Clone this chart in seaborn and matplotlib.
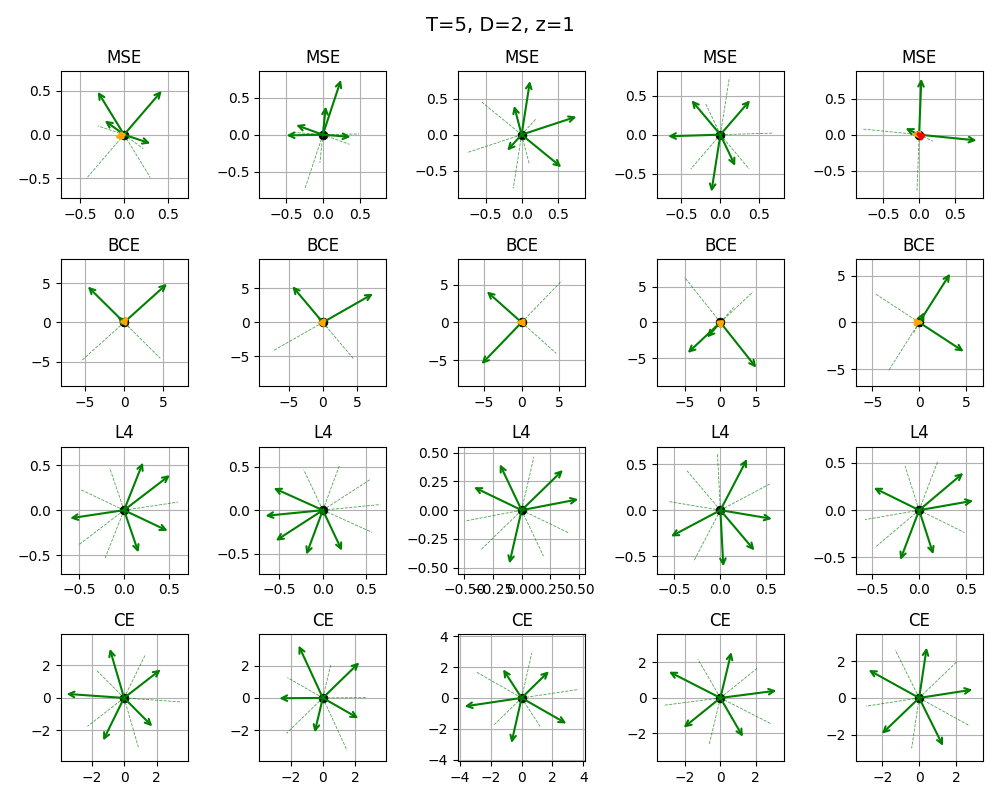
import numpy as np
import matplotlib
matplotlib.use('Agg')
import matplotlib.pyplot as plt
from matplotlib.ticker import MaxNLocator
import seaborn as sns

# loss rows of the grid
loss_names = ['MSE', 'BCE', 'L4', 'CE']

# green vectors (tips, from origin), one list per panel
mse_vectors = [
    [(0.43, 0.50), (-0.30, 0.49), (-0.22, 0.16), (0.30, -0.10)],
    [(0.245, 0.74), (0.04, 0.38), (-0.49, -0.01), (-0.36, 0.13), (0.375, -0.03)],
    [(0.116, 0.744), (-0.105, 0.40), (0.76, 0.25), (0.55, -0.45), (-0.20, -0.22)],
    [(0.38, 0.44), (-0.37, 0.44), (-0.67, -0.02), (-0.115, -0.73), (0.19, -0.40)],
    [(0.03, 0.78), (0.80, -0.08), (-0.19, 0.09)],
]
bce_vectors = [
    [(5.45, 4.9), (-4.6, 4.55), (-0.8, 0.75)],
    [(7.36, 4.2), (-4.47, 5.3), (-0.7, 0.8)],
    [(-4.6, 4.1), (-5.3, -5.5)],
    [(5.0, -6.3), (-4.55, -4.25), (-1.86, -2.1)],
    [(3.3, 5.2), (4.75, -3.1), (0.57, 1.1)],
]
l4_vectors = [
    [(0.21, 0.53), (0.51, 0.39), (0.485, -0.23), (0.16, -0.47), (-0.60, -0.09)],
    [(-0.565, 0.254), (-0.66, -0.065), (-0.54, -0.35), (-0.19, -0.51), (0.22, -0.465)],
    [(-0.415, 0.20), (-0.19, 0.40), (0.36, 0.35), (0.494, 0.095), (-0.107, -0.465)],
    [(0.29, 0.556), (0.56, -0.094), (0.37, -0.437), (0.032, -0.61), (-0.537, -0.285)],
    [(0.467, 0.394), (0.572, 0.10), (0.15, -0.467), (-0.20, -0.526), (-0.48, 0.237)],
]
ce_vectors = [
    [(-3.55, 0.25), (-0.88, 3.03), (2.26, 1.75), (1.74, -1.75), (-1.29, -2.62)],
    [(-1.5, 3.25), (2.26, 2.2), (2.2, -1.26), (-0.51, -2.14), (-2.7, -0.02)],
    [(1.77, 1.73), (2.9, -1.66), (-0.66, -2.92), (-3.7, -0.55), (-1.2, 1.85)],
    [(0.62, 2.59), (3.16, 0.41), (1.27, -2.19), (-2.07, -1.67), (-2.9, 1.48)],
    [(0.41, 2.74), (2.9, 0.45), (1.3, -2.61), (-2.03, -1.95), (-2.75, 1.52)],
]

# small extra vectors (None = not drawn)
orange_vectors = [
    [(-0.11, -0.04), None, None, None, (-0.11, 0.01)],
    [(0.5, 0.85), (0.5, 0.8), (-0.8, 0.0), (0.1, -1.1), (0.5, 0.0)],
    [None] * 5,
    [None] * 5,
]
red_vectors = [
    [None, None, None, None, (-0.05, 0.035)],
    [None] * 5,
    [None] * 5,
    [None] * 5,
]

all_vectors = [mse_vectors, bce_vectors, l4_vectors, ce_vectors]


def draw_arrow(ax, tip, color, lw, style='->', scale=10):
    ax.annotate('', xy=tip, xytext=(0, 0),
                arrowprops=dict(arrowstyle=style, color=color, lw=lw,
                                shrinkA=0, shrinkB=0, mutation_scale=scale))


fig, axes = plt.subplots(4, 5, figsize=(10, 8))

for r, loss in enumerate(loss_names):
    for c in range(5):
        ax = axes[r, c]
        vecs = np.array(all_vectors[r][c])

        sns.scatterplot(x=[0], y=[0], color='black', s=40, ax=ax,
                        edgecolor='black', zorder=2)

        # mirrored directions as thin dashed lines
        for x, y in vecs:
            ax.plot([0, -x], [0, -y], linestyle='--', color='green',
                    linewidth=0.6, alpha=0.7, zorder=2)

        for x, y in vecs:
            draw_arrow(ax, (x, y), 'green', 1.5)

        if orange_vectors[r][c] is not None:
            draw_arrow(ax, orange_vectors[r][c], 'orange', 2.5, '-|>', 8)
        if red_vectors[r][c] is not None:
            draw_arrow(ax, red_vectors[r][c], 'red', 2.5, '-|>', 8)

        lim = 1.1 * np.linalg.norm(vecs, axis=1).max()
        ax.set_xlim(-lim, lim)
        ax.set_ylim(-lim, lim)
        ax.set_aspect('equal')
        ax.xaxis.set_major_locator(MaxNLocator(nbins=5, steps=[1, 2, 2.5, 5, 10]))
        ax.yaxis.set_major_locator(MaxNLocator(nbins=5, steps=[1, 2, 2.5, 5, 10]))
        ax.grid(True)
        ax.set_axisbelow(True)
        ax.set_title(loss)

fig.suptitle('T=5, D=2, z=1', fontsize=14)
plt.tight_layout()
plt.savefig('out.png', dpi=100)
plt.close()
